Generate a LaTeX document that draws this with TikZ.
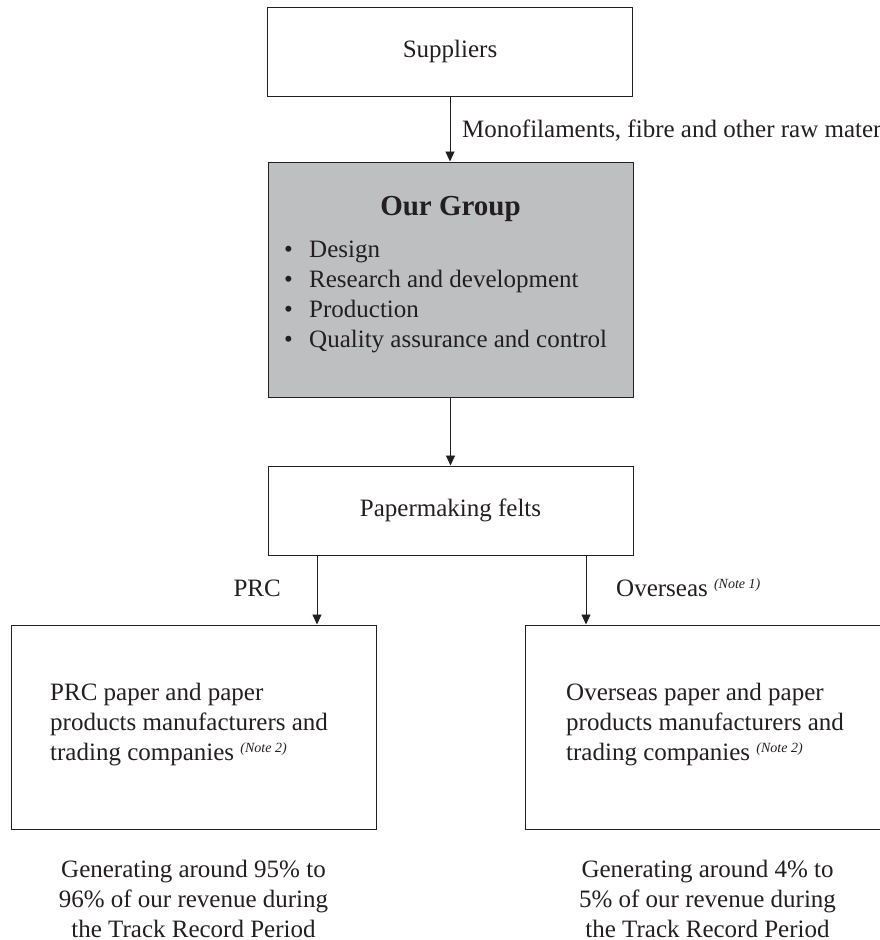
\documentclass[tikz,border=0pt]{standalone}
\usepackage{fontspec}
\setmainfont{Liberation Serif}
\usetikzlibrary{arrows.meta}
\definecolor{ink}{RGB}{35,31,32}
\definecolor{boxgray}{RGB}{190,191,193}
\newcommand\notesup[1]{\raisebox{8pt}{\fontsize{14}{14}\selectfont\itshape(#1)}}
\begin{document}
\begin{tikzpicture}[x=1pt,y=-1pt,
  every node/.style={text=ink, font=\fontsize{25}{30}\selectfont},
  box/.style={draw=ink, line width=1pt, minimum width=365pt, inner sep=0pt},
  txt/.style={inner sep=0pt},
  arr/.style={draw=ink, line width=0.9pt, -{Triangle[length=10pt,width=9pt]}}]
\useasboundingbox (0,0) rectangle (880,940);
\fill[white] (0,0) rectangle (880,940);
\clip (0,0) rectangle (880,940);

% boxes
\node[box, minimum height=89pt] (sup) at (450,51.5) {Suppliers};
\node[box, minimum height=235pt, fill=boxgray] (grp) at (450.5,279.5) {};
\node[box, minimum height=89pt] (felt) at (450.5,510.5) {Papermaking felts};
\node[box, minimum height=204pt] (prc) at (193.5,727) {};
\node[box, minimum height=204pt] (ovs) at (707.5,727) {};

% Our Group contents
\node[txt, anchor=base, font=\fontsize{29}{34}\selectfont\bfseries] (title) at (450.5,215) {Our Group};
\foreach \t/\yy/\n in {Design/257/b1, Research and development/287/b2, Production/317/b3, Quality assurance and control/347/b4}{
  \node[txt, anchor=base west] (\n dot) at (284,\yy) {•};
  \node[txt, anchor=base west] (\n) at (309,\yy) {\t};
}

% box texts
\node[txt, anchor=north west, align=left] (prctxt) at (50,683)
  {PRC paper and paper\\products manufacturers and\\trading companies \notesup{Note 2}};
\node[txt, anchor=north west, align=left] (ovstxt) at (566,683)
  {Overseas paper and paper\\products manufacturers and\\trading companies \notesup{Note 2}};

% bottom notes
\node[txt, anchor=north, align=center] (prcrev) at (193.5,860)
  {Generating around 95\% to\\96\% of our revenue during\\the Track Record Period};
\node[txt, anchor=north, align=center] (ovsrev) at (707.5,860)
  {Generating around 4\% to\\5\% of our revenue during\\the Track Record Period};

% connectors
\coordinate (cl) at (317,0);
\coordinate (cr) at (586,0);
\draw[arr] (sup.south) -- (grp.north -| sup.south);
\draw[arr] (grp.south) -- (felt.north);
\draw[arr] (felt.south -| cl) -- (prc.north -| cl);
\draw[arr] (felt.south -| cr) -- (ovs.north -| cr);

% connector labels
\node[txt, anchor=base west] (lraw) at (462,137) {Monofilaments, fibre and other raw materials};
\node[txt, anchor=base east] (lprc) at (281,596) {PRC};
\node[txt, anchor=base west] (lovs) at (616,596) {Overseas \notesup{Note 1}};
\end{tikzpicture}
\end{document}
